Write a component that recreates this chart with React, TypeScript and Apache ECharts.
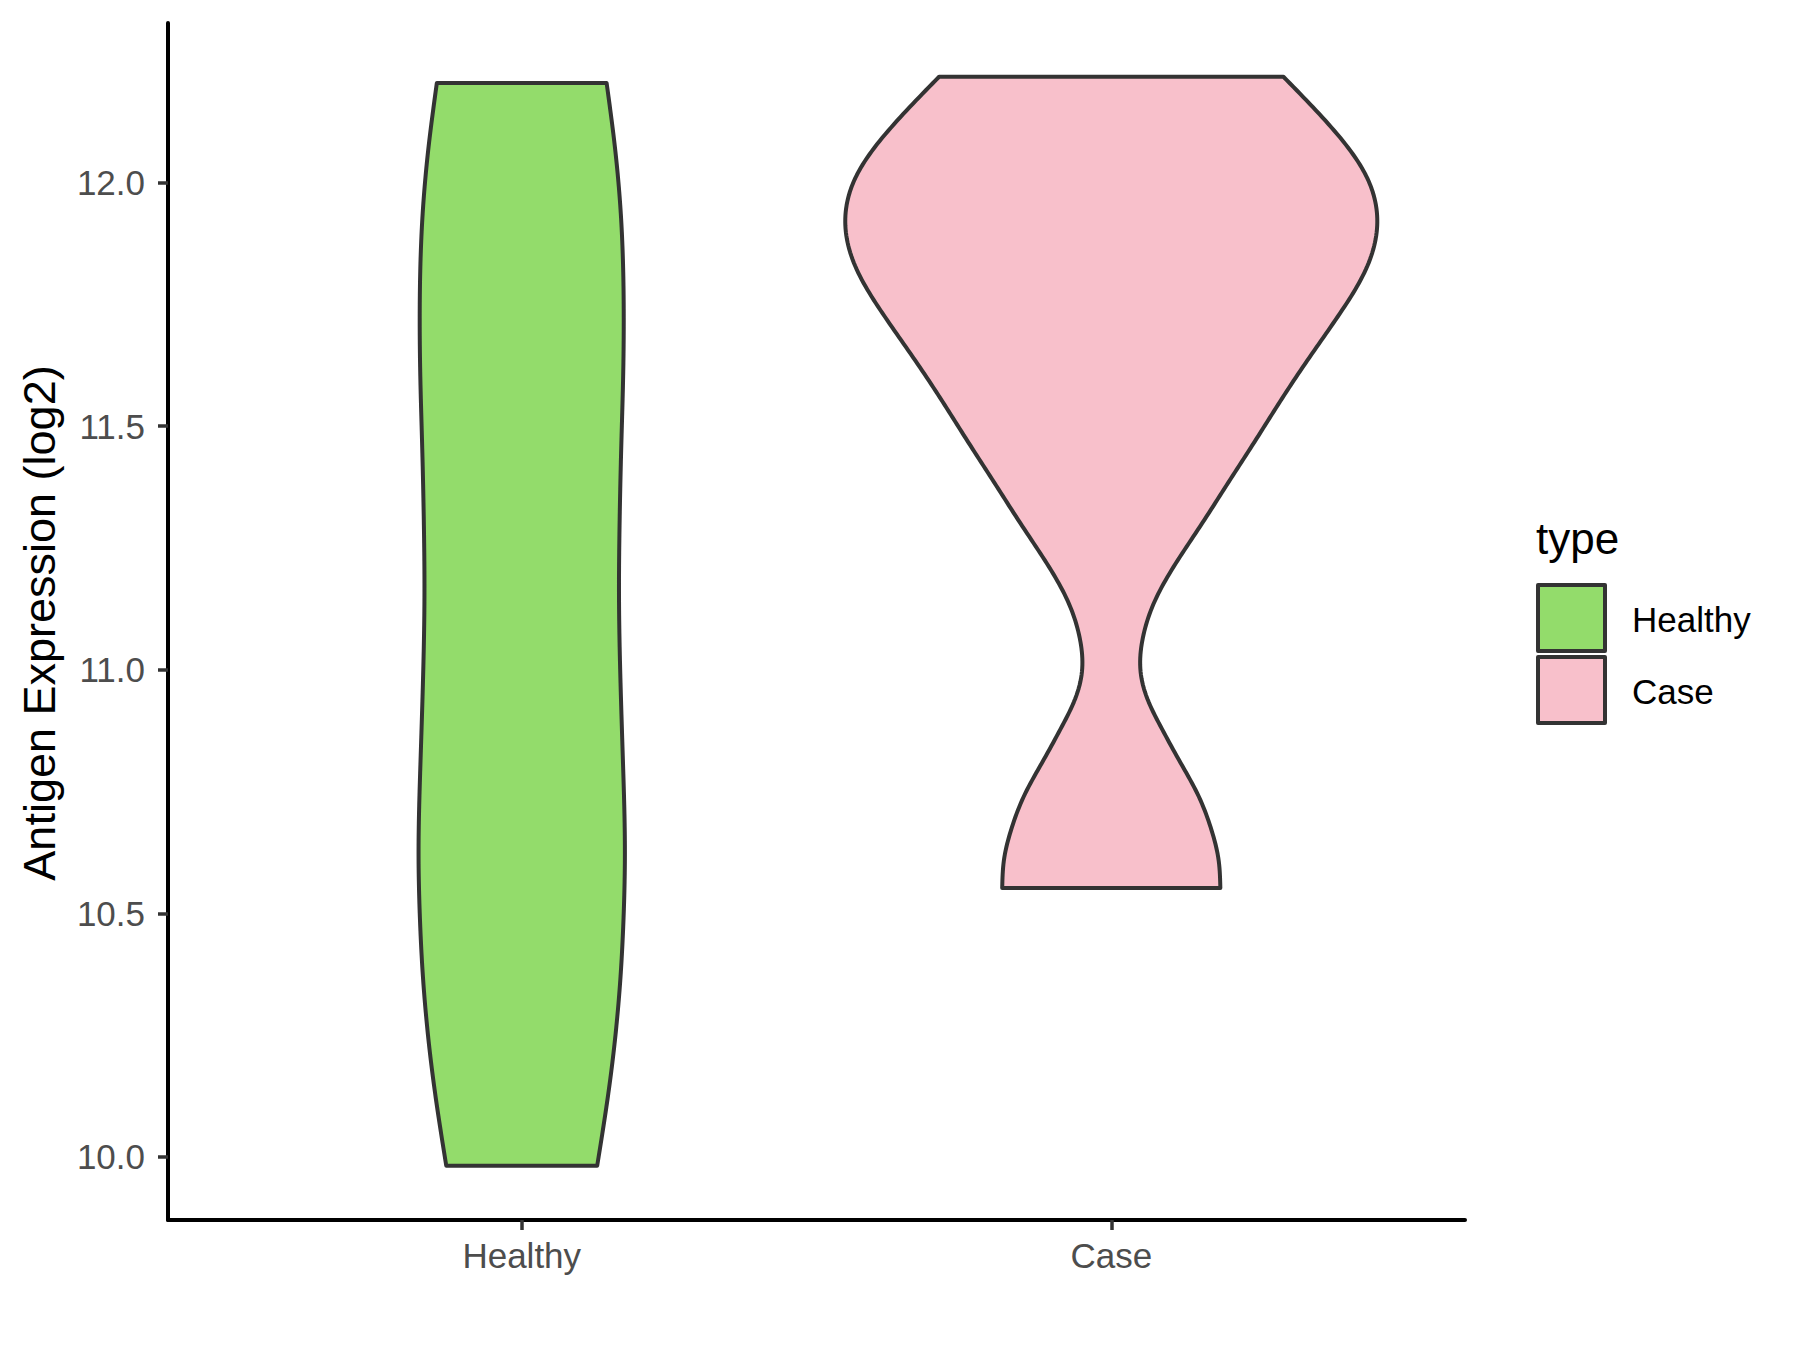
import React, { useEffect, useRef } from "react";
import * as echarts from "echarts";

// ---- data ----
const categories = ["Healthy", "Case"];
const yTicks = [10.0, 10.5, 11.0, 11.5, 12.0];

// violin outline: expression value (y) and half-width (in category units)
const healthyValues = [9.982, 10.14, 10.25, 10.36, 10.5, 10.62, 10.8, 11.0, 11.15, 11.3, 11.465, 11.6, 11.74, 11.937, 12.094, 12.204];
const healthyHalfWidth = [0.128, 0.148, 0.159, 0.167, 0.173, 0.175, 0.172, 0.167, 0.165, 0.166, 0.169, 0.172, 0.173, 0.168, 0.156, 0.144];

const caseValues = [10.552, 10.61, 10.671, 10.746, 10.808, 10.883, 10.938, 10.993, 11.068, 11.136, 11.2, 11.293, 11.387, 11.481, 11.563, 11.646, 11.728, 11.822, 11.91, 12.012, 12.115, 12.217];
const caseHalfWidth = [0.185, 0.182, 0.17, 0.146, 0.118, 0.084, 0.062, 0.05, 0.054, 0.072, 0.1, 0.15, 0.2, 0.25, 0.293, 0.339, 0.386, 0.432, 0.451, 0.433, 0.372, 0.292];

const colors = ["#93DC6B", "#F8C0CB"];
const FONT = "'Liberation Sans', Arial, Helvetica, sans-serif";

// natural cubic spline through the read outline points (used only for drawing)
function naturalSpline(xs: number[], ys: number[]) {
  const n = xs.length;
  const h: number[] = [];
  for (let i = 0; i < n - 1; i++) h.push(xs[i + 1] - xs[i]);
  const M = new Array(n).fill(0);
  if (n > 2) {
    const a: number[] = [], b: number[] = [], c: number[] = [], d: number[] = [];
    for (let i = 1; i < n - 1; i++) {
      a.push(h[i - 1]);
      b.push(2 * (h[i - 1] + h[i]));
      c.push(h[i]);
      d.push(6 * ((ys[i + 1] - ys[i]) / h[i] - (ys[i] - ys[i - 1]) / h[i - 1]));
    }
    const m = b.length;
    for (let i = 1; i < m; i++) {
      const w = a[i] / b[i - 1];
      b[i] -= w * c[i - 1];
      d[i] -= w * d[i - 1];
    }
    const sol = new Array(m).fill(0);
    sol[m - 1] = d[m - 1] / b[m - 1];
    for (let i = m - 2; i >= 0; i--) sol[i] = (d[i] - c[i] * sol[i + 1]) / b[i];
    for (let i = 0; i < m; i++) M[i + 1] = sol[i];
  }
  return (x: number) => {
    let i = 0;
    while (i < n - 2 && x > xs[i + 1]) i++;
    const hi = h[i];
    const A = xs[i + 1] - x;
    const B = x - xs[i];
    return (
      (M[i] * A * A * A) / (6 * hi) +
      (M[i + 1] * B * B * B) / (6 * hi) +
      (ys[i] / hi - (M[i] * hi) / 6) * A +
      (ys[i + 1] / hi - (M[i + 1] * hi) / 6) * B
    );
  };
}

function violinSeries(idx: number, values: number[], half: number[]) {
  const center = idx + 1;
  const spline = naturalSpline(values, half);
  return {
    type: "custom",
    name: categories[idx],
    coordinateSystem: "cartesian2d",
    data: [[center, values[0]]],
    silent: true,
    renderItem: (params: any, api: any) => {
      const steps = 240;
      const v0 = values[0];
      const v1 = values[values.length - 1];
      const right: number[][] = [];
      const left: number[][] = [];
      for (let k = 0; k <= steps; k++) {
        const v = v0 + ((v1 - v0) * k) / steps;
        const w = spline(v);
        right.push(api.coord([center + w, v]));
        left.push(api.coord([center - w, v]));
      }
      left.reverse();
      let d = `M ${right[0][0]} ${right[0][1]}`;
      for (let k = 1; k < right.length; k++) d += ` L ${right[k][0]} ${right[k][1]}`;
      for (let k = 0; k < left.length; k++) d += ` L ${left[k][0]} ${left[k][1]}`;
      d += " Z";
      return {
        type: "path",
        shape: { pathData: d },
        style: {
          fill: colors[idx],
          stroke: "#333333",
          lineWidth: 4,
          lineJoin: "round",
        },
      };
    },
  };
}

export default function App() {
  const ref = useRef<HTMLDivElement>(null);
  useEffect(() => {
    if (!ref.current) return;
    const chart = echarts.init(ref.current, null, { renderer: "svg" });
    const option: any = {
      animation: false,
      backgroundColor: "#ffffff",
      grid: { left: 168, top: 23, width: 1297, height: 1197, containLabel: false },
      xAxis: {
        type: "value",
        min: 0.4,
        max: 2.6,
        splitLine: { show: false },
        axisLine: { show: true, onZero: false, lineStyle: { color: "#000000", width: 4 } },
        axisTick: {
          show: true,
          customValues: [1, 2],
          length: 10,
          lineStyle: { color: "#333333", width: 3.5 },
        },
        axisLabel: {
          show: true,
          customValues: [1, 2],
          margin: 18,
          fontSize: 35,
          fontFamily: FONT,
          color: "#4D4D4D",
          formatter: (v: number) => categories[Math.round(v) - 1] ?? "",
        },
      },
      yAxis: {
        type: "value",
        min: 9.8707,
        max: 12.3273,
        splitLine: { show: false },
        axisLine: { show: true, onZero: false, lineStyle: { color: "#000000", width: 4 } },
        axisTick: {
          show: true,
          customValues: yTicks,
          length: 10,
          lineStyle: { color: "#333333", width: 3.5 },
        },
        axisLabel: {
          show: true,
          customValues: yTicks,
          margin: 23,
          fontSize: 35,
          fontFamily: FONT,
          color: "#4D4D4D",
          formatter: (v: number) => v.toFixed(1),
        },
      },
      series: [
        violinSeries(0, healthyValues, healthyHalfWidth),
        violinSeries(1, caseValues, caseHalfWidth),
      ],
      graphic: [
        {
          type: "text",
          x: 39,
          y: 623,
          rotation: Math.PI / 2,
          style: {
            text: "Antigen Expression (log2)",
            fontSize: 45,
            fontFamily: FONT,
            fill: "#000000",
            align: "center",
            verticalAlign: "middle",
          },
        },
        {
          type: "text",
          x: 1536,
          y: 538,
          style: {
            text: "type",
            fontSize: 44,
            fontFamily: FONT,
            fill: "#000000",
            align: "left",
            verticalAlign: "middle",
          },
        },
        ...categories.map((c, i) => ({
          type: "rect",
          shape: { x: 1538, y: 585 + i * 72, width: 67, height: 66 },
          style: { fill: colors[i], stroke: "#333333", lineWidth: 4, lineJoin: "round" },
        })),
        ...categories.map((c, i) => ({
          type: "text",
          x: 1632,
          y: 619 + i * 72,
          style: {
            text: c,
            fontSize: 35,
            fontFamily: FONT,
            fill: "#000000",
            align: "left",
            verticalAlign: "middle",
          },
        })),
      ],
    };
    chart.setOption(option);
    return () => chart.dispose();
  }, []);
  return (
    <div
      ref={ref}
      style={{ position: "absolute", left: 0, top: 0, width: 1800, height: 1350 }}
    />
  );
}
